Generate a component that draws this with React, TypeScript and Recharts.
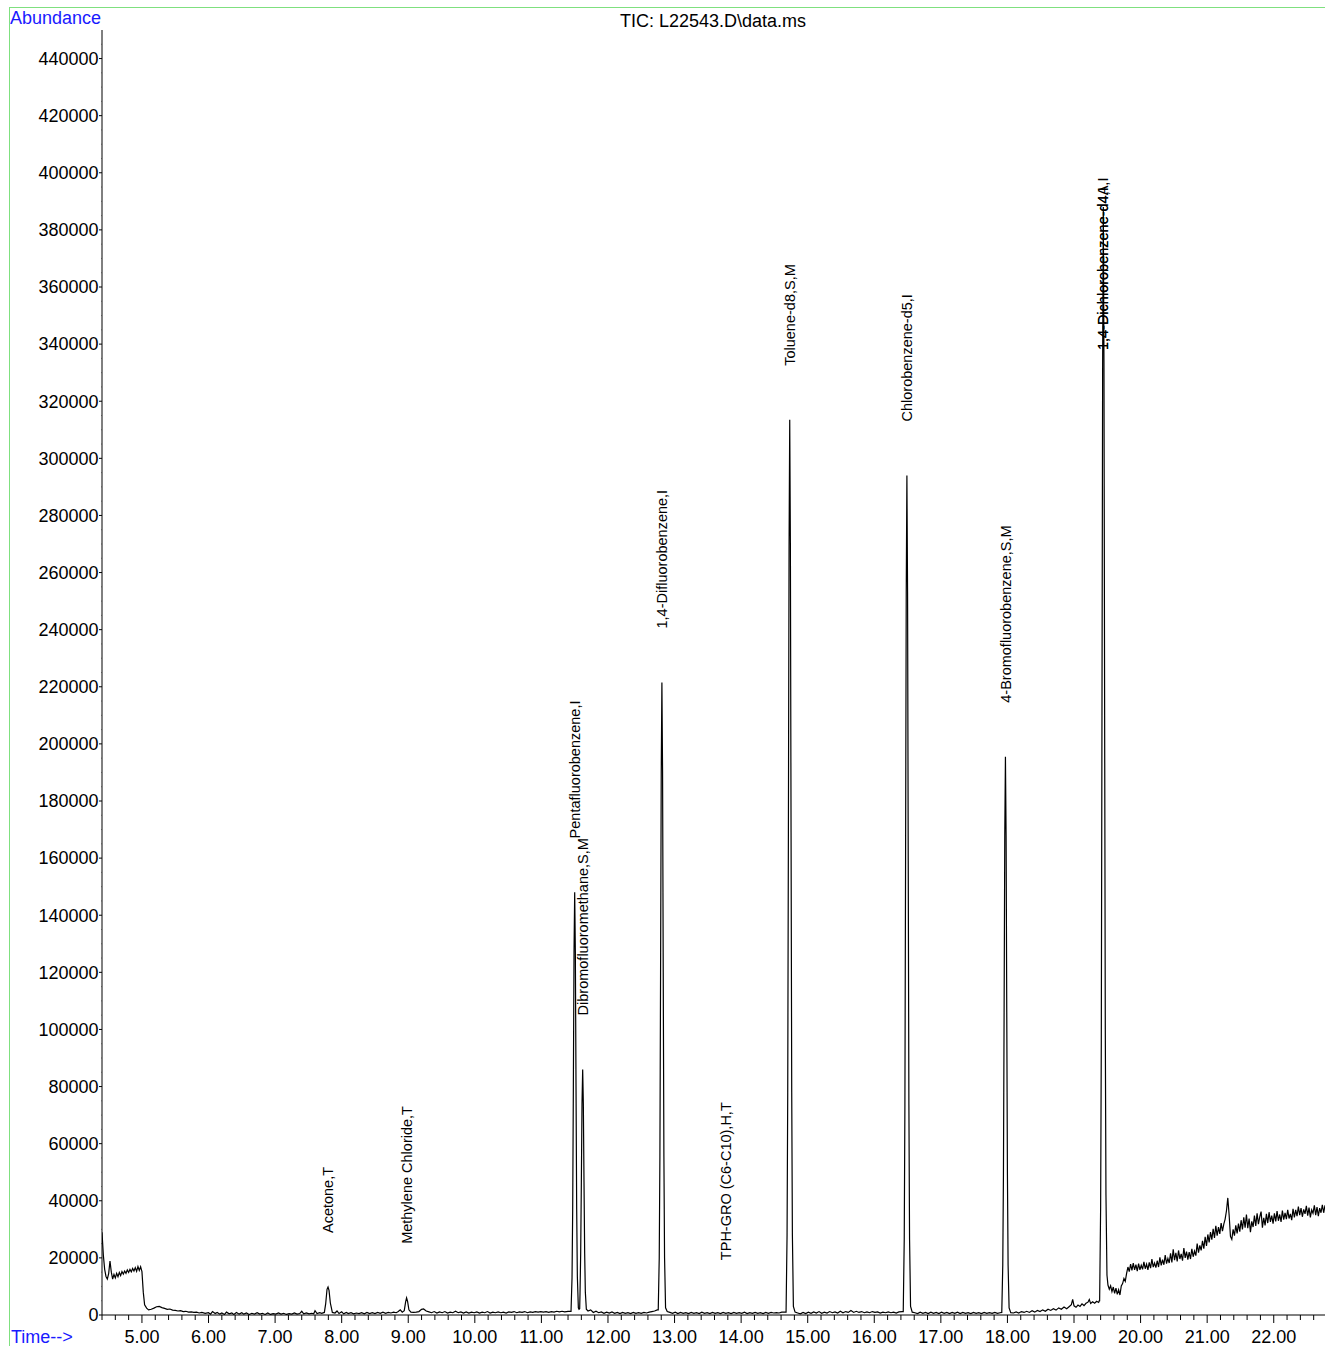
import React from "react";
import { ComposedChart, Line, Scatter, XAxis, YAxis } from "recharts";

const FONT = "'Liberation Sans', Arial, sans-serif";

// Retention time (min) / abundance pairs
const earlyTrace: [number, number][] = [
  [4.40, 29000],[4.42, 21000],[4.44, 16000],[4.46, 13500],[4.48, 12600],[4.50, 14500],[4.52, 18900],[4.54, 15000],[4.56, 12600],[4.58, 14200],
  [4.60, 13000],[4.62, 14600],[4.64, 13400],[4.66, 14900],[4.68, 13800],[4.70, 15200],[4.72, 14300],[4.74, 15400],[4.76, 14600],[4.78, 15800],
  [4.80, 14900],[4.82, 16000],[4.84, 15100],[4.86, 16300],[4.88, 15400],[4.90, 16600],[4.92, 15300],[4.94, 17000],[4.96, 15600],[4.98, 16900],
  [5.00, 15200],[5.02, 8000],[5.04, 3600],[5.07, 2400],[5.10, 1800],[5.14, 2000],[5.18, 2400],[5.22, 2900],[5.26, 3000],[5.30, 2600],
  [5.34, 2300],[5.38, 2000],[5.42, 2100],[5.46, 1700],[5.50, 1600],[5.54, 1400],[5.58, 1500],[5.62, 1200],[5.66, 1300],[5.70, 1000],
  [5.74, 1100],[5.78, 900],[5.82, 1000],[5.86, 700],[5.90, 900],[5.95, 600],
  [6.00, 800],[6.03, 300],[6.06, 1200],[6.10, 500],[6.13, 900],[6.17, 300],[6.20, 700],[6.24, 200],[6.27, 1000],[6.31, 400],
  [6.35, 700],[6.38, 200],[6.42, 900],[6.46, 300],[6.50, 800],[6.53, 300],[6.57, 700],[6.61, 200],[6.65, 600],[6.69, 300],
  [6.73, 800],[6.77, 300],[6.81, 600],[6.85, 200],[6.89, 700],[6.93, 200],[6.97, 500],[7.01, 300],[7.05, 700],[7.09, 300],
  [7.13, 600],[7.17, 200],[7.21, 500],[7.25, 300],[7.29, 700],[7.33, 300],[7.37, 500],[7.40, 1300],[7.43, 400],[7.47, 700],
  [7.51, 400],[7.55, 600],[7.58, 400],[7.60, 1500],[7.63, 500],[7.67, 800],[7.70, 600],
  [7.74, 900],[7.76, 4000],[7.78, 9000],[7.795, 9800],[7.81, 8600],[7.83, 4200],[7.86, 900],
  [7.90, 700],[7.93, 1400],[7.96, 500],[8.00, 1100],[8.03, 400],[8.07, 900],[8.10, 500],[8.14, 800],[8.18, 400],[8.22, 700],
  [8.26, 500],[8.30, 800],[8.34, 400],[8.38, 900],[8.42, 500],[8.46, 800],[8.50, 500],[8.54, 900],[8.58, 600],[8.62, 1000],
  [8.66, 600],[8.70, 900],[8.74, 700],[8.78, 1000],[8.82, 800],[8.85, 1200],[8.88, 1800],[8.91, 1000],
  [8.94, 1500],[8.96, 4500],[8.975, 6000],[8.99, 4800],[9.01, 1800],[9.04, 1000],
  [9.08, 900],[9.12, 1000],[9.16, 1200],[9.20, 2000],[9.23, 2100],[9.27, 1400],[9.31, 1100],[9.35, 800],[9.39, 1200],[9.43, 700],
  [9.47, 1100],[9.51, 800],[9.55, 1200],[9.59, 700],[9.63, 1000],[9.67, 800],[9.71, 1300],[9.75, 800],[9.79, 1100],[9.83, 700],
  [9.87, 1100],[9.91, 700],[9.95, 1000],[9.99, 800],[10.03, 1100],[10.07, 700],[10.11, 1000],[10.15, 800],[10.19, 1200],[10.23, 700],
  [10.27, 1000],[10.31, 800],[10.35, 1100],[10.39, 800],[10.43, 1000],[10.47, 700],[10.51, 1100],[10.55, 900],[10.59, 1200],[10.63, 800],
  [10.67, 1100],[10.71, 900],[10.75, 1200],[10.79, 800],[10.83, 1100],[10.87, 900],[10.91, 1200],[10.95, 1000],[10.99, 1200],[11.03, 1000],
  [11.07, 1200],[11.11, 900],[11.15, 1200],[11.19, 1000],[11.23, 1300],[11.27, 1100],[11.31, 1300],[11.35, 1100],[11.40, 1300],
];

const midTrace: [number, number][] = [
  [11.445, 1300],[11.46, 13000],[11.47, 37000],[11.48, 80000],[11.49, 127000],[11.50, 148000],[11.51, 127000],[11.52, 80000],[11.53, 37000],[11.54, 13500],[11.555, 2500],[11.565, 2000],
  [11.575, 2200],[11.58, 7500],[11.59, 21500],[11.60, 46500],[11.61, 74000],[11.62, 86000],[11.63, 74000],[11.64, 46500],[11.65, 21500],[11.66, 8000],[11.675, 2000],[11.70, 1400],
  [11.74, 1800],[11.78, 900],[11.82, 1300],[11.86, 800],[11.90, 1100],[11.94, 600],[11.98, 1000],[12.02, 700],[12.06, 1100],[12.10, 600],
  [12.14, 900],[12.18, 500],[12.22, 900],[12.26, 600],[12.30, 800],[12.34, 500],[12.38, 900],[12.42, 600],[12.46, 800],[12.50, 600],
  [12.54, 900],[12.58, 700],[12.62, 1000],[12.66, 1200],[12.70, 1400],[12.74, 1800],
  [12.755, 1800],[12.77, 20000],[12.78, 55500],[12.79, 120000],[12.80, 190000],[12.81, 221500],[12.82, 190000],[12.83, 120000],[12.84, 55500],[12.85, 20000],[12.865, 2500],[12.89, 1200],
  [12.93, 900],[12.97, 600],[13.01, 1000],[13.05, 500],[13.09, 900],[13.13, 600],[13.17, 800],[13.21, 500],[13.25, 900],[13.29, 600],
  [13.33, 800],[13.37, 500],[13.41, 1000],[13.45, 600],[13.49, 800],[13.53, 500],[13.57, 900],[13.61, 600],[13.65, 800],[13.69, 500],
  [13.73, 900],[13.77, 600],[13.81, 800],[13.85, 500],[13.89, 900],[13.93, 600],[13.97, 800],[14.01, 600],[14.05, 1000],[14.09, 500],
  [14.13, 800],[14.17, 600],[14.21, 900],[14.25, 600],[14.29, 800],[14.33, 500],[14.37, 900],[14.41, 600],[14.45, 900],[14.49, 700],
  [14.53, 800],[14.57, 700],[14.61, 1000],[14.66, 1000],
  [14.675, 1000],[14.69, 28000],[14.70, 78000],[14.71, 169000],[14.72, 269000],[14.73, 313500],[14.74, 269000],[14.75, 169000],[14.76, 78000],[14.77, 28000],[14.785, 3000],[14.81, 1000],
  [14.85, 700],[14.89, 400],[14.93, 900],[14.97, 500],[15.01, 1000],[15.05, 600],[15.09, 1100],[15.13, 700],[15.17, 1200],[15.21, 600],
  [15.25, 1000],[15.29, 700],[15.33, 1200],[15.37, 800],[15.41, 1100],[15.45, 700],[15.49, 1300],[15.53, 800],[15.57, 1200],[15.61, 900],
  [15.65, 1600],[15.69, 900],[15.73, 1300],[15.77, 900],[15.81, 1200],[15.85, 800],[15.89, 1100],[15.93, 800],[15.97, 1200],[16.01, 900],
  [16.05, 1100],[16.09, 700],[16.13, 1000],[16.17, 800],[16.21, 1100],[16.25, 800],[16.29, 1000],[16.33, 700],[16.37, 1100],[16.42, 1200],
  [16.435, 1200],[16.45, 26500],[16.46, 73500],[16.47, 159000],[16.48, 253000],[16.49, 294000],[16.50, 253000],[16.51, 159000],[16.52, 73500],[16.53, 26500],[16.545, 3000],[16.57, 1000],
  [16.61, 800],[16.65, 500],[16.69, 1000],[16.73, 600],[16.77, 900],[16.81, 500],[16.85, 1000],[16.89, 600],[16.93, 900],[16.97, 500],
  [17.01, 1000],[17.05, 600],[17.09, 900],[17.13, 500],[17.17, 900],[17.21, 600],[17.25, 1000],[17.29, 500],[17.33, 900],[17.37, 600],
  [17.41, 800],[17.45, 500],[17.49, 900],[17.53, 600],[17.57, 800],[17.61, 500],[17.65, 900],[17.69, 600],[17.73, 800],[17.77, 600],
  [17.81, 900],[17.85, 600],[17.89, 800],
  [17.915, 900],[17.93, 17500],[17.94, 49000],[17.95, 106000],[17.96, 168000],[17.97, 195500],[17.98, 168000],[17.99, 106000],[18.00, 49000],[18.01, 17500],[18.025, 2500],[18.05, 800],
];

const lateTrace: [number, number][] = [
  [18.09, 700],[18.13, 1100],[18.17, 700],[18.21, 1200],[18.25, 900],[18.29, 1300],[18.33, 900],[18.37, 1500],[18.41, 1000],[18.45, 1600],
  [18.49, 1200],[18.53, 1800],[18.57, 1300],[18.61, 2000],[18.65, 1600],[18.69, 2200],[18.73, 1700],[18.77, 2500],[18.81, 2000],[18.85, 2800],
  [18.89, 2200],[18.93, 3000],[18.96, 3600],[18.98, 5500],[19.00, 3200],[19.03, 2700],[19.06, 3500],[19.09, 3000],[19.12, 3900],[19.15, 3300],
  [19.18, 4100],[19.21, 4500],[19.23, 5400],[19.25, 4000],[19.28, 4600],[19.31, 4100],[19.34, 4800],[19.37, 4400],[19.38, 5000],
  [19.385, 5000],[19.40, 38000],[19.41, 96000],[19.42, 210000],[19.43, 333000],[19.44, 388000],[19.45, 333000],[19.46, 210000],[19.47, 100000],[19.48, 42000],[19.495, 14000],[19.51, 10500],
  [19.53, 9000],[19.55, 10200],[19.57, 8200],[19.59, 9800],[19.61, 7600],[19.63, 9400],[19.65, 7200],[19.67, 8800],[19.69, 7000],[19.71, 10200],
  [19.73, 11000],[19.75, 12800],[19.77, 11800],[19.79, 14600],[19.81, 16800],[19.83, 15200],[19.85, 17800],[19.87, 15600],[19.89, 18200],[19.91, 15800],
  [19.93, 17600],[19.95, 15400],[19.97, 18000],[19.99, 15800],[20.01, 17400],[20.03, 16000],[20.05, 18600],[20.07, 16200],[20.09, 17800],[20.11, 15800],
  [20.13, 18400],[20.15, 16400],[20.17, 19600],[20.19, 16800],[20.21, 18200],[20.23, 16600],[20.25, 19000],[20.27, 16800],[20.29, 20200],[20.31, 17400],
  [20.33, 19400],[20.35, 17600],[20.37, 21000],[20.39, 18000],[20.41, 19800],[20.43, 18200],[20.45, 21600],[20.47, 18400],[20.49, 23000],[20.51, 19200],
  [20.53, 21800],[20.55, 18800],[20.57, 22600],[20.59, 19600],[20.61, 21400],[20.63, 19000],[20.65, 23400],[20.67, 20000],[20.69, 22200],[20.71, 19400],
  [20.73, 22000],[20.75, 19600],[20.77, 23200],[20.79, 20400],[20.81, 22400],[20.83, 20800],[20.85, 25000],[20.87, 21800],[20.89, 24400],[20.91, 22600],
  [20.93, 26000],[20.95, 23200],[20.97, 27400],[20.99, 24200],[21.01, 28200],[21.03, 25400],[21.05, 29000],[21.07, 26400],[21.09, 30200],[21.11, 27000],
  [21.13, 31200],[21.15, 27800],[21.17, 30800],[21.19, 28400],[21.21, 32200],[21.23, 29400],[21.25, 31800],[21.27, 33600],[21.29, 36500],[21.31, 41000],
  [21.33, 35000],[21.35, 27500],[21.37, 26500],[21.39, 30000],[21.41, 27800],[21.43, 31400],[21.45, 28600],[21.47, 32000],[21.49, 29200],[21.51, 33200],
  [21.53, 30000],[21.55, 34200],[21.57, 30600],[21.59, 35200],[21.61, 30400],[21.63, 33800],[21.65, 29000],[21.67, 32800],[21.69, 30800],[21.71, 34800],
  [21.73, 31200],[21.75, 35600],[21.77, 31800],[21.79, 34400],[21.81, 36200],[21.83, 30600],[21.85, 34000],[21.87, 31400],[21.89, 35400],[21.91, 32200],
  [21.93, 36000],[21.95, 32600],[21.97, 34800],[21.99, 32000],[22.01, 35600],[22.03, 32800],[22.05, 36400],[22.07, 33000],[22.09, 35200],[22.11, 32600],
  [22.13, 36600],[22.15, 33400],[22.17, 35800],[22.19, 33600],[22.21, 36800],[22.23, 33800],[22.25, 35400],[22.27, 33200],[22.29, 37200],[22.31, 34200],
  [22.33, 36800],[22.35, 34600],[22.37, 38000],[22.39, 35000],[22.41, 37400],[22.43, 34400],[22.45, 37000],[22.47, 35400],[22.49, 38200],[22.51, 34800],
  [22.53, 37600],[22.55, 34200],[22.57, 36800],[22.59, 35600],[22.61, 38400],[22.63, 35000],[22.65, 37800],[22.67, 34600],[22.69, 37400],[22.71, 35800],
  [22.73, 38600],[22.75, 35800],[22.77, 38400],
];

// Peak annotations: retention time, anchor abundance, label text
const labelTimes = [7.795, 8.975, 11.50, 11.62, 12.81, 13.77, 14.73, 16.49, 17.97, 19.44, 19.44];
const labelAnchors = [9800, 6000, 148000, 86000, 221500, 300, 313500, 294000, 195500, 319000, 319000];
const labelNames = [
  "Acetone,T",
  "Methylene Chloride,T",
  "Pentafluorobenzene,I",
  "Dibromofluoromethane,S,M",
  "1,4-Difluorobenzene,I",
  "TPH-GRO (C6-C10),H,T",
  "Toluene-d8,S,M",
  "Chlorobenzene-d5,I",
  "4-Bromofluorobenzene,S,M",
  "1,4-Dichlorobenzene-d4,I",
  "1,4-Dichlorobenzene-d4A,I",
];

const majorXTicks = [5, 6, 7, 8, 9, 10, 11, 12, 13, 14, 15, 16, 17, 18, 19, 20, 21, 22];
const xTicks = Array.from({ length: 92 }, (_, i) => Math.round((4.4 + i * 0.2) * 10) / 10);
const yTicks = Array.from({ length: 90 }, (_, i) => i * 5000);

const traceData = [...earlyTrace, ...midTrace, ...lateTrace].map(([t, v]) => ({ t, v }));
const labelData = labelTimes.map((t, i) => ({ t, v: labelAnchors[i], name: labelNames[i] }));

const XTick = (props: any) => {
  const { x, y, payload } = props;
  const v = payload.value as number;
  const major = majorXTicks.some((m) => Math.abs(m - v) < 1e-6);
  return (
    <g>
      <line x1={x} x2={x} y1={y} y2={y + (major ? 8 : 5)} stroke="#000" strokeWidth={1} />
      {major && (
        <text x={x} y={y + 27.5} textAnchor="middle" fontSize={18} fontFamily={FONT} fill="#000">
          {v.toFixed(2)}
        </text>
      )}
    </g>
  );
};

const YTick = (props: any) => {
  const { x, y, payload } = props;
  const v = payload.value as number;
  const major = v % 20000 === 0;
  return (
    <g>
      <line x1={x - (major ? 3 : 1)} x2={x} y1={y} y2={y} stroke={major ? "#000" : "#555"} strokeWidth={1} />
      {major && (
        <text x={x - 3.5} y={y} dy="0.35em" textAnchor="end" fontSize={18} fontFamily={FONT} fill="#000">
          {v}
        </text>
      )}
    </g>
  );
};

const LabelShape = (props: any) => {
  const { cx, cy, payload } = props;
  if (cx == null || cy == null) return <g />;
  const ay = cy - 54;
  return (
    <text
      x={cx}
      y={ay}
      dy="0.35em"
      transform={`rotate(-90 ${cx} ${ay})`}
      textAnchor="start"
      fontSize={14.5}
      fontFamily={FONT}
      fill="#000"
    >
      {payload.name}
    </text>
  );
};

export default function App() {
  return (
    <div style={{ position: "absolute", left: 0, top: 0, width: 1325, height: 1346, background: "#fff", overflow: "hidden" }}>
      <ComposedChart width={1325} height={1346} data={traceData} margin={{ top: 30, right: 0, bottom: 0, left: 0 }}>
        <XAxis
          type="number"
          dataKey="t"
          domain={[4.4, 22.77]}
          ticks={xTicks}
          interval={0}
          tick={XTick}
          tickLine={false}
          tickSize={0}
          tickMargin={0}
          height={31}
          axisLine={{ stroke: "#000", strokeWidth: 1 }}
          allowDataOverflow
        />
        <YAxis
          type="number"
          domain={[0, 450000]}
          ticks={yTicks}
          interval={0}
          tick={YTick}
          tickLine={false}
          tickSize={0}
          tickMargin={0}
          width={102}
          axisLine={{ stroke: "#000", strokeWidth: 1 }}
          allowDataOverflow
        />
        <Line
          type="linear"
          dataKey="v"
          stroke="#000"
          strokeWidth={1.2}
          dot={false}
          activeDot={false}
          isAnimationActive={false}
        />
        <Scatter data={labelData} dataKey="v" shape={LabelShape} isAnimationActive={false} />
      </ComposedChart>
      <svg
        width={1325}
        height={1346}
        style={{ position: "absolute", left: 0, top: 0, pointerEvents: "none" }}
      >
        <rect x={9.5} y={7.5} width={1330} height={1350} fill="none" stroke="#7fe07f" strokeWidth={1} />
        <text x={10} y={24} fontSize={18} fontFamily={FONT} fill="#1a1aff">Abundance</text>
        <text x={713} y={27} textAnchor="middle" fontSize={18} fontFamily={FONT} fill="#000">
          {"TIC: L22543.D\\data.ms"}
        </text>
        <text x={11} y={1343} fontSize={18} fontFamily={FONT} fill="#1a1aff">{"Time-->"}</text>
      </svg>
    </div>
  );
}
